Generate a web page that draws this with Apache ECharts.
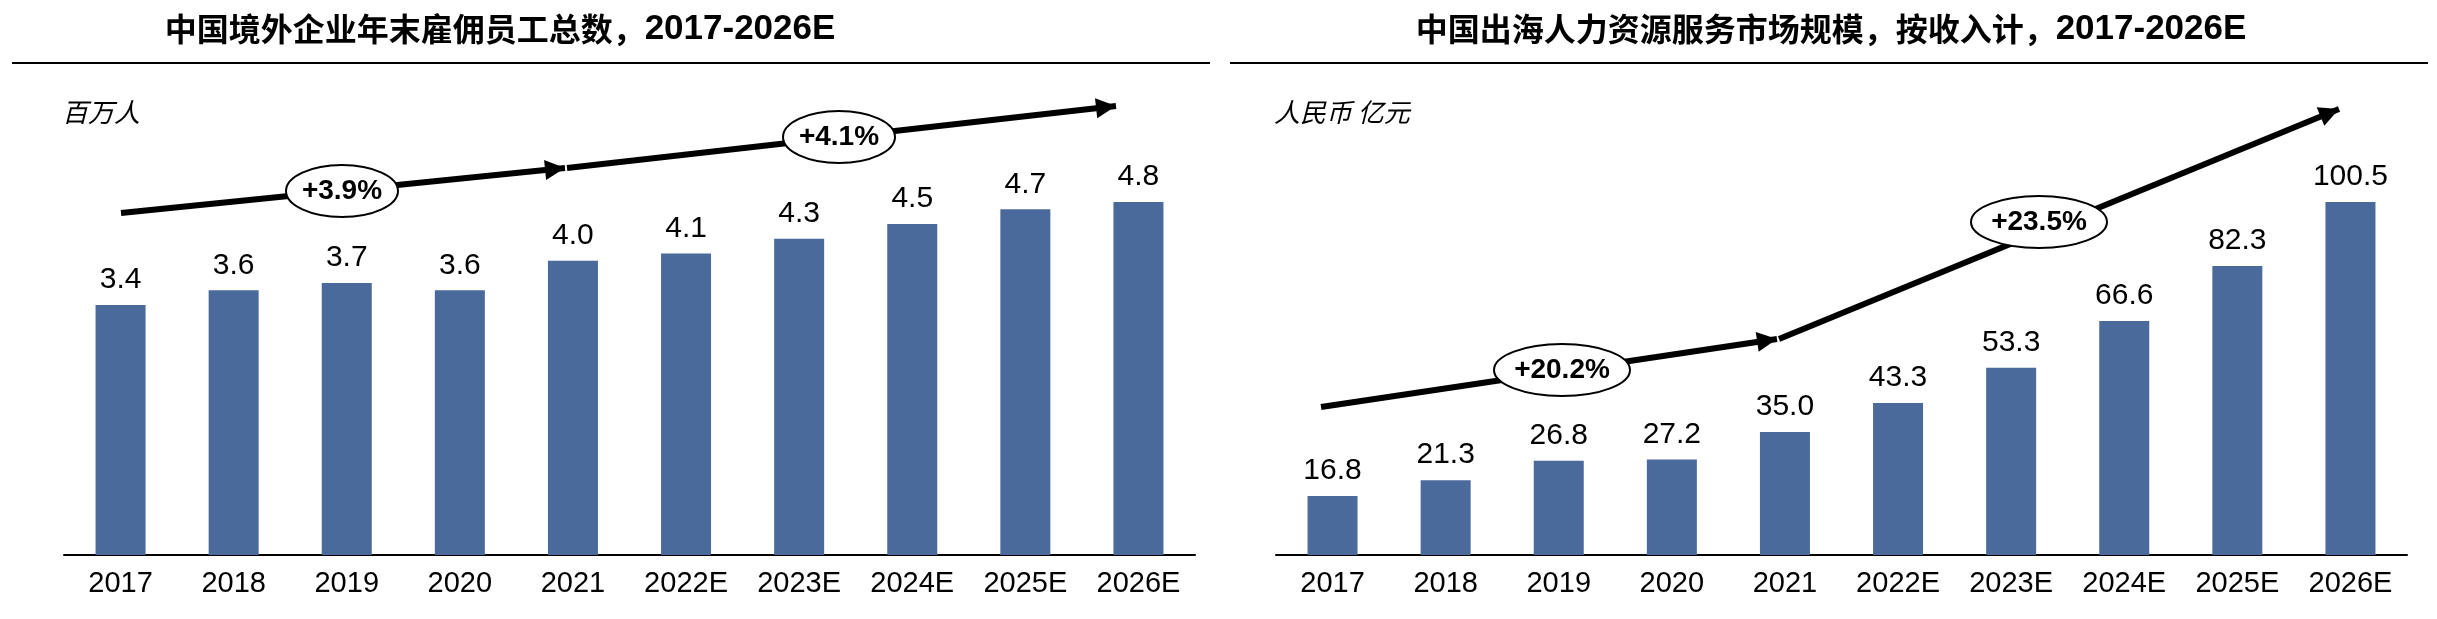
<!DOCTYPE html>
<html>
<head>
<meta charset="utf-8">
<script src="https://cdn.jsdelivr.net/npm/echarts@6/dist/echarts.min.js"></script>
<style>html,body{margin:0;padding:0;background:#fff}#c{width:2437px;height:619px}</style>
</head>
<body>
<div id="c"></div>
<script>
//数据
const years = ['2017', '2018', '2019', '2020', '2021', '2022E', '2023E', '2024E', '2025E', '2026E'];
const employees = [3.4, 3.6, 3.7, 3.6, 4.0, 4.1, 4.3, 4.5, 4.7, 4.8];
const hrMarket = [16.8, 21.3, 26.8, 27.2, 35.0, 43.3, 53.3, 66.6, 82.3, 100.5];
const cagrLeft = ['+3.9%', '+4.1%'];
const cagrRight = ['+20.2%', '+23.5%'];

const BAR = '#4A6A9B';
const FONT = '"Liberation Sans", Arial, sans-serif';
const CJK = '"Noto Sans CJK SC", sans-serif';

const chart = echarts.init(document.getElementById('c'));

const xAxis = (gridIndex) => ({
    type: 'category', gridIndex, data: years,
    axisLine: {lineStyle: {color: '#000', width: 2}},
    axisTick: {show: false},
    axisLabel: {color: '#000', fontSize: 29, fontFamily: FONT, margin: 14, interval: 0}
});
const yAxis = (gridIndex, max) => ({
    type: 'value', gridIndex, min: 0, max, show: false
});
const bars = (idx, data) => ({
    type: 'bar', xAxisIndex: idx, yAxisIndex: idx, data, barWidth: 50,
    itemStyle: {color: BAR},
    label: {show: true, position: 'top', distance: 10, color: '#000', fontSize: 30, fontFamily: FONT,
        formatter: p => p.value.toFixed(1)}
});

//箭头线段
const arrow = (x1, y1, x2, y2) => ({
    type: 'line', shape: {x1, y1, x2, y2}, z: 10,
    style: {stroke: '#000', lineWidth: 6}
});
const head = (x1, y1, x2, y2) => {
    const a = Math.atan2(y2 - y1, x2 - x1);
    const L = 20, W = 10;
    const p = (d, w) => [x2 - Math.cos(a) * d - Math.sin(a) * w, y2 - Math.sin(a) * d + Math.cos(a) * w];
    return {type: 'polygon', z: 11, shape: {points: [[x2, y2], p(L, W), p(L, -W)]}, style: {fill: '#000'}};
};
const bubble = (cx, cy, rx, text) => ([
    {type: 'ellipse', z: 12, shape: {cx, cy, rx, ry: 26}, style: {fill: '#fff', stroke: '#000', lineWidth: 2}},
    {type: 'text', z: 13, x: cx, y: cy, style: {text, fill: '#000', font: 'bold 28px ' + FONT, align: 'center', verticalAlign: 'middle'}}
]);
const segs = [
    [121, 213, 565, 168], [567, 168, 1116, 106],
    [1321, 407, 1777, 339], [1779, 339, 2339, 109]
];
const graphic = [];
segs.forEach(s => { graphic.push(arrow(...s), head(...s)); });
graphic.push(...bubble(342, 191, 56, cagrLeft[0]), ...bubble(839, 137, 56, cagrLeft[1]));
graphic.push(...bubble(1562, 370, 68, cagrRight[0]), ...bubble(2039, 222, 68, cagrRight[1]));
// 标题下划线
graphic.push({type: 'line', shape: {x1: 12, y1: 63, x2: 1210, y2: 63}, style: {stroke: '#000', lineWidth: 2}});
graphic.push({type: 'line', shape: {x1: 1230, y1: 63, x2: 2428, y2: 63}, style: {stroke: '#000', lineWidth: 2}});
// 标题
graphic.push({type: 'text', x: 500, y: 29, style: {
    text: '{c|中国境外企业年末雇佣员工总数，}{b|2017-2026E}', align: 'center', verticalAlign: 'middle',
    rich: {c: {font: 'bold 32px ' + CJK, fill: '#000'}, b: {font: 'bold 35px ' + FONT, fill: '#000'}}}});
graphic.push({type: 'text', x: 1831, y: 29, style: {
    text: '{c|中国出海人力资源服务市场规模，按收入计，}{b|2017-2026E}', align: 'center', verticalAlign: 'middle',
    rich: {c: {font: 'bold 32px ' + CJK, fill: '#000'}, b: {font: 'bold 35px ' + FONT, fill: '#000'}}}});
// 单位
graphic.push({type: 'text', x: 62, y: 112, style: {text: '百万人', font: 'italic 26px ' + CJK, fill: '#000', verticalAlign: 'middle'}});
graphic.push({type: 'text', x: 1274, y: 112, style: {text: '人民币 亿元', font: 'italic 26px ' + CJK, fill: '#000', verticalAlign: 'middle'}});

chart.setOption({
    animation: false,
    grid: [
        {left: 64, width: 1131, top: 202, bottom: 64},
        {left: 1276, width: 1131, top: 202, bottom: 64}
    ],
    xAxis: [xAxis(0), xAxis(1)],
    yAxis: [yAxis(0, 4.8), yAxis(1, 100.5)],
    series: [bars(0, employees), bars(1, hrMarket)],
    graphic
});
</script>
</body>
</html>
